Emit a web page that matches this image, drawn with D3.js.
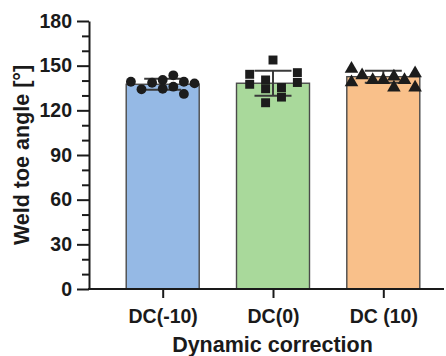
<!DOCTYPE html>
<html>
<head>
<meta charset="utf-8">
<script src="https://cdn.jsdelivr.net/npm/d3@7"></script>
<style>
  html, body { margin: 0; padding: 0; background: #fff; }
  svg { display: block; }
  text { font-family: "Liberation Sans", Arial, sans-serif; font-weight: bold; fill: #1a1a1a; }
</style>
</head>
<body>
<svg id="chart" width="446" height="356"></svg>
<script>
// ---- data ----
const categories = ["DC(-10)", "DC(0)", "DC (10)"];
const means = [137.5, 138.2, 142.6];
const sds = [3.7, 8.4, 4.0];
const pointsA = [139.2, 134.1, 138.5, 140.4, 134.5, 143.5, 135.9, 139.2, 131.0, 138.1];
const pointsB = [153.8, 144.2, 137.5, 140.4, 134.5, 125.1, 135.3, 128.9, 145.3, 138.7];
const pointsC = [148.6, 139.5, 144.2, 141.0, 141.0, 143.3, 135.9, 141.0, 145.5, 135.9];
const slotsA = [-3, -2, -1, 0, 0, 1, 1, 2, 2, 3];
const slotsB = [0, -2.2, -2.2, -0.7, -0.7, -0.7, 0.8, 0.8, 2.3, 2.3];
const slotsC = [-3, -3, -2, -1, 0, 1, 1, 2, 3, 3];
const yTicks = [0, 30, 60, 90, 120, 150, 180];
const yMinorTicks = [10, 20, 40, 50, 70, 80, 100, 110, 130, 140, 160, 170];
const fills = ["#95b9e5", "#a9d99b", "#f9c08a"];
const shapes = [d3.symbolCircle, d3.symbolSquare, d3.symbolTriangle];
const yTitle = "Weld toe angle [°]";
const xTitle = "Dynamic correction";

// ---- layout ----
const svg = d3.select("#chart");
const axisX0 = 89, axisX1 = 444, axisY = 289, topY = 21;
const barW = 73, capW = 37;
const tickFont = "19.5px", titleFont = "21.5px";

const y = d3.scaleLinear().domain([0, 180]).range([axisY, topY]);
const x = d3.scalePoint().domain(categories).range([162.7, 383.3]);
const slot = d3.scaleLinear().domain([0, 1]).range([0, 10.6]);

const groups = [
  { cat: categories[0], mean: means[0], sd: sds[0], pts: pointsA, slots: slotsA },
  { cat: categories[1], mean: means[1], sd: sds[1], pts: pointsB, slots: slotsB },
  { cat: categories[2], mean: means[2], sd: sds[2], pts: pointsC, slots: slotsC }
];

// bars
svg.selectAll("rect.bar").data(groups).join("rect")
  .attr("class", "bar")
  .attr("x", d => x(d.cat) - barW / 2)
  .attr("width", barW)
  .attr("y", d => y(d.mean))
  .attr("height", d => y(0) - y(d.mean))
  .attr("fill", (d, i) => fills[i])
  .attr("stroke", "#4a4a4a")
  .attr("stroke-width", 1.4);

// error bars
const eb = svg.selectAll("g.eb").data(groups).join("g").attr("class", "eb")
  .attr("stroke", "#3a3a3a").attr("stroke-width", 2).attr("fill", "none");
eb.append("line")
  .attr("x1", d => x(d.cat)).attr("x2", d => x(d.cat))
  .attr("y1", d => y(d.mean + d.sd)).attr("y2", d => y(d.mean - d.sd));
eb.append("line")
  .attr("x1", d => x(d.cat) - capW / 2).attr("x2", d => x(d.cat) + capW / 2)
  .attr("y1", d => y(d.mean + d.sd)).attr("y2", d => y(d.mean + d.sd));
eb.append("line")
  .attr("x1", d => x(d.cat) - capW / 2).attr("x2", d => x(d.cat) + capW / 2)
  .attr("y1", d => y(d.mean - d.sd)).attr("y2", d => y(d.mean - d.sd));

// points
const symSizes = [76, 80, 80];
groups.forEach((g, gi) => {
  const sym = d3.symbol().type(shapes[gi]).size(symSizes[gi]);
  svg.append("g").selectAll("path").data(g.pts).join("path")
    .attr("d", sym)
    .attr("transform", (v, i) => {
      const dy = gi === 2 ? 1 : 0;
      return `translate(${x(g.cat) + slot(g.slots[i])},${y(v) + dy})`;
    })
    .attr("fill", "#1c1c1c");
});

// y axis
const yAxis = svg.append("g").attr("transform", `translate(${axisX0},0)`)
  .call(d3.axisLeft(y).tickValues(yTicks).tickSize(12).tickSizeOuter(0).tickPadding(5));
svg.append("g").attr("transform", `translate(${axisX0},0)`)
  .call(d3.axisLeft(y).tickValues(yMinorTicks).tickSize(7).tickFormat("").tickSizeOuter(0))
  .call(g => g.select(".domain").remove());
yAxis.selectAll("text").style("font-size", tickFont).attr("fill", "#1a1a1a")
  .style("font-family", "'Liberation Sans', Arial, sans-serif").style("font-weight", "bold");
svg.selectAll(".tick line").attr("stroke", "#1a1a1a").attr("stroke-width", 2);
yAxis.select(".domain").attr("stroke", "#1a1a1a").attr("stroke-width", 2);

// x axis
const xAxis = svg.append("g").attr("transform", `translate(0,${axisY})`)
  .call(d3.axisBottom(x).tickSize(9).tickSizeOuter(0).tickPadding(11));
xAxis.select(".domain").remove();
xAxis.append("line").attr("x1", axisX0 - 1).attr("x2", axisX1).attr("y1", 0).attr("y2", 0)
  .attr("stroke", "#1a1a1a").attr("stroke-width", 2);
xAxis.selectAll(".tick line").attr("stroke", "#1a1a1a").attr("stroke-width", 2);
xAxis.selectAll("text").style("font-size", tickFont).attr("fill", "#1a1a1a")
  .style("font-family", "'Liberation Sans', Arial, sans-serif").style("font-weight", "bold");

// titles
svg.append("text")
  .attr("transform", `translate(29,155) rotate(-90)`)
  .attr("text-anchor", "middle")
  .style("font-size", titleFont)
  .text(yTitle);
svg.append("text")
  .attr("x", 272.5).attr("y", 352)
  .attr("text-anchor", "middle")
  .style("font-size", titleFont)
  .text(xTitle);
</script>
</body>
</html>
